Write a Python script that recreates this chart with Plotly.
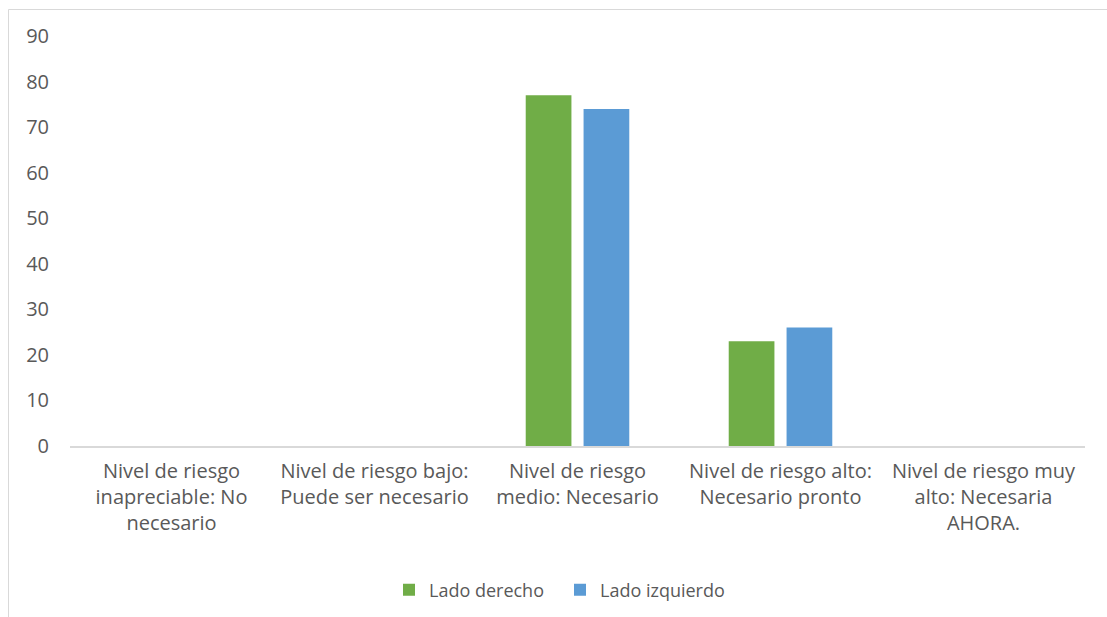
import plotly.graph_objects as go

# Risk-level categories (x axis)
categorias = [
    "Nivel de riesgo<br>inapreciable: No<br>necesario",
    "Nivel de riesgo bajo:<br>Puede ser necesario",
    "Nivel de riesgo<br>medio: Necesario",
    "Nivel de riesgo alto:<br>Necesario pronto",
    "Nivel de riesgo muy<br>alto: Necesaria<br>AHORA.",
]

# Values per side
lado_derecho = [0, 0, 77, 23, 0]
lado_izquierdo = [0, 0, 74, 26, 0]

y_ticks = [0, 10, 20, 30, 40, 50, 60, 70, 80, 90]

VERDE = "#70AD47"
AZUL = "#5B9BD5"
TEXTO = "#595959"
FUENTE = "Open Sans, Noto Sans, sans-serif"

fig = go.Figure()
fig.add_trace(go.Bar(name="Lado derecho", x=categorias, y=lado_derecho,
                     marker=dict(color=VERDE, line=dict(width=0))))
fig.add_trace(go.Bar(name="Lado izquierdo", x=categorias, y=lado_izquierdo,
                     marker=dict(color=AZUL, line=dict(width=0))))

W, H = 1107, 617
L, R, T, B = 70, 22, 36, 171
pw, ph = W - L - R, H - T - B

# chart-area border (top and left edges visible)
bx = (8.5 - L) / pw
by = 1 + (T - 9.5) / ph
fig.add_shape(type="line", xref="paper", yref="paper",
              x0=bx, x1=1.2, y0=by, y1=by,
              line=dict(color="#D9D9D9", width=1))
fig.add_shape(type="line", xref="paper", yref="paper",
              x0=bx, x1=bx, y0=-1, y1=by,
              line=dict(color="#D9D9D9", width=1))

fig.update_layout(
    width=W, height=H,
    margin=dict(l=L, r=R, t=T, b=B, autoexpand=False),
    paper_bgcolor="white", plot_bgcolor="white",
    barmode="group", bargap=0.43, bargroupgap=0.21,
    font=dict(family=FUENTE, size=20, color=TEXTO),
    legend=dict(orientation="h", x=(389 - L) / pw, xanchor="left",
                y=(446 - 590) / ph, yanchor="middle",
                font=dict(size=18, color=TEXTO),
                itemwidth=30, entrywidth=126, tracegroupgap=0),
    showlegend=True,
)
fig.update_xaxes(
    showgrid=False, showline=True, linecolor="#D9D9D9", linewidth=1.5,
    ticks="", tickfont=dict(size=20, color=TEXTO),
    ticklabelstandoff=6, fixedrange=True,
)
fig.update_yaxes(
    range=[0, 90], tickvals=y_ticks, showgrid=False, zeroline=False,
    showline=False, ticks="", tickfont=dict(size=20, color=TEXTO),
    ticklabelstandoff=20, fixedrange=True,
)

fig.write_html("out.html")
